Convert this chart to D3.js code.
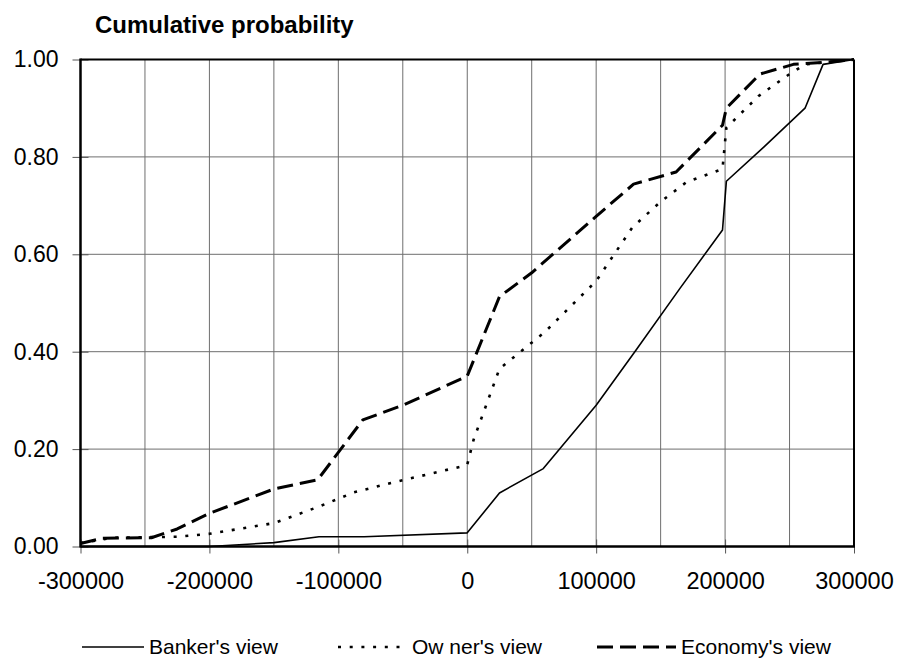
<!DOCTYPE html>
<html>
<head>
<meta charset="utf-8">
<script src="https://cdn.jsdelivr.net/npm/d3@7"></script>
<style>
  html, body { margin: 0; padding: 0; background: #fff; }
  svg { display: block; font-family: "Liberation Sans", Arial, sans-serif; }
</style>
</head>
<body>
<svg id="chart" width="903" height="670"></svg>
<script>
// ---- data ----
const xTickValues = [-300000, -200000, -100000, 0, 100000, 200000, 300000];
const xGridValues = [-250000, -200000, -150000, -100000, -50000, 0, 50000, 100000, 150000, 200000, 250000];
const yTickValues = [0, 0.2, 0.4, 0.6, 0.8, 1.0];

const bankerX = [-300000, -200000, -150000, -115000, -80000, 0, 25000, 59000, 100000, 130000, 165000, 198000, 201000, 230000, 262000, 276000, 300000];
const bankerY = [0, 0, 0.008, 0.02, 0.02, 0.028, 0.11, 0.16, 0.29, 0.40, 0.53, 0.65, 0.75, 0.82, 0.90, 0.99, 1.00];

const ownerX = [-300000, -275000, -225000, -200000, -150000, -115000, -88000, -60000, -5000, 0, 5000, 25000, 60000, 100000, 128000, 150000, 170000, 198000, 201000, 226000, 250000, 262000, 300000];
const ownerY = [0.007, 0.018, 0.02, 0.026, 0.048, 0.082, 0.111, 0.13, 0.164, 0.168, 0.22, 0.365, 0.44, 0.545, 0.655, 0.708, 0.748, 0.775, 0.86, 0.925, 0.97, 0.99, 1.00];

const economyX = [-300000, -283000, -245000, -225000, -200000, -150000, -116000, -81000, -50000, 0, 25000, 50000, 100000, 129000, 162000, 198000, 201000, 227000, 253000, 276000, 300000];
const economyY = [0.006, 0.017, 0.018, 0.036, 0.068, 0.118, 0.137, 0.26, 0.29, 0.35, 0.513, 0.562, 0.678, 0.744, 0.769, 0.865, 0.90, 0.97, 0.99, 0.994, 1.00];

const seriesNames = ["Banker's view", "Ow ner's view", "Economy's view"];

// ---- layout ----
const svg = d3.select("#chart");
const plotLeft = 80.5, plotRight = 854, plotTop = 59.5, plotBottom = 546.5;
const FONT = "'Liberation Sans', Arial, sans-serif";

const x = d3.scaleLinear().domain([-300000, 300000]).range([plotLeft, plotRight]);
const y = d3.scaleLinear().domain([0, 1]).range([plotBottom, plotTop]);

const styles = [
  { width: 1.6, dash: null },
  { width: 2.6, dash: "3,8.7" },
  { width: 3, dash: "16,7" }
];

// gridlines
svg.append("g").selectAll("line").data(xGridValues).join("line")
  .attr("x1", d => x(d)).attr("x2", d => x(d))
  .attr("y1", plotTop).attr("y2", plotBottom)
  .attr("stroke", "#6e6e6e").attr("stroke-width", 1);
svg.append("g").selectAll("line").data(yTickValues.filter(v => v > 0 && v < 1)).join("line")
  .attr("x1", plotLeft).attr("x2", plotRight)
  .attr("y1", d => y(d)).attr("y2", d => y(d))
  .attr("stroke", "#6e6e6e").attr("stroke-width", 1);

// axes
const xAxis = d3.axisBottom(x).tickValues(xTickValues).tickFormat(d => String(d))
  .tickSizeInner(7).tickSizeOuter(0).tickPadding(19);
const gx = svg.append("g").attr("transform", `translate(0,${plotBottom})`).call(xAxis);
gx.select(".domain").remove();
gx.selectAll(".tick line").attr("stroke", "#555").attr("y1", -7).attr("y2", 7);
gx.selectAll(".tick text").attr("font-size", 23.5).attr("fill", "#000").attr("font-family", FONT);

const yAxis = d3.axisLeft(y).tickValues(yTickValues).tickFormat(d3.format(".2f"))
  .tickSizeInner(8).tickSizeOuter(0).tickPadding(14);
const gy = svg.append("g").attr("transform", `translate(${plotLeft},0)`).call(yAxis);
gy.select(".domain").remove();
gy.selectAll(".tick line").attr("stroke", "#555").attr("x1", -8).attr("x2", 8);
gy.selectAll(".tick text").attr("font-size", 23).attr("fill", "#000").attr("font-family", FONT);

// plot frame
svg.append("line").attr("x1", plotLeft).attr("x2", plotRight).attr("y1", plotTop).attr("y2", plotTop).attr("stroke", "#000").attr("stroke-width", 2);
svg.append("line").attr("x1", plotRight).attr("x2", plotRight).attr("y1", plotTop).attr("y2", plotBottom).attr("stroke", "#000").attr("stroke-width", 2);

// series
const seriesData = [
  d3.zip(bankerX, bankerY),
  d3.zip(ownerX, ownerY),
  d3.zip(economyX, economyY)
];
const line = d3.line().x(d => x(d[0])).y(d => y(d[1]));
seriesData.forEach((data, i) => {
  svg.append("path").datum(data)
    .attr("d", line)
    .attr("fill", "none")
    .attr("stroke", "#000")
    .attr("stroke-width", styles[i].width)
    .attr("stroke-linejoin", "round")
    .attr("stroke-dasharray", styles[i].dash);
});

// axis lines on top
svg.append("line").attr("x1", plotLeft).attr("x2", plotLeft).attr("y1", plotTop - 1).attr("y2", plotBottom + 1).attr("stroke", "#000").attr("stroke-width", 2.5);
svg.append("line").attr("x1", plotLeft).attr("x2", plotRight + 1).attr("y1", plotBottom).attr("y2", plotBottom).attr("stroke", "#000").attr("stroke-width", 2.5);

// title
svg.append("text").attr("x", 95).attr("y", 33)
  .attr("font-size", 24).attr("font-weight", "bold").attr("fill", "#000").attr("font-family", FONT)
  .text("Cumulative probability");

// legend
const legendX = [82, 338, 597];
const legendLen = [62, 69, 79];
const legendY = 647;
seriesNames.forEach((name, i) => {
  const g = svg.append("g").attr("transform", `translate(${legendX[i]},${legendY})`);
  g.append("line").attr("x1", 0).attr("x2", legendLen[i]).attr("y1", 0).attr("y2", 0)
    .attr("stroke", "#000").attr("stroke-width", styles[i].width)
    .attr("stroke-dasharray", styles[i].dash);
  g.append("text").attr("x", legendLen[i] + 5).attr("y", 0).attr("dy", "0.35em")
    .attr("font-size", 21).attr("fill", "#000").attr("font-family", FONT).text(name);
});
</script>
</body>
</html>
